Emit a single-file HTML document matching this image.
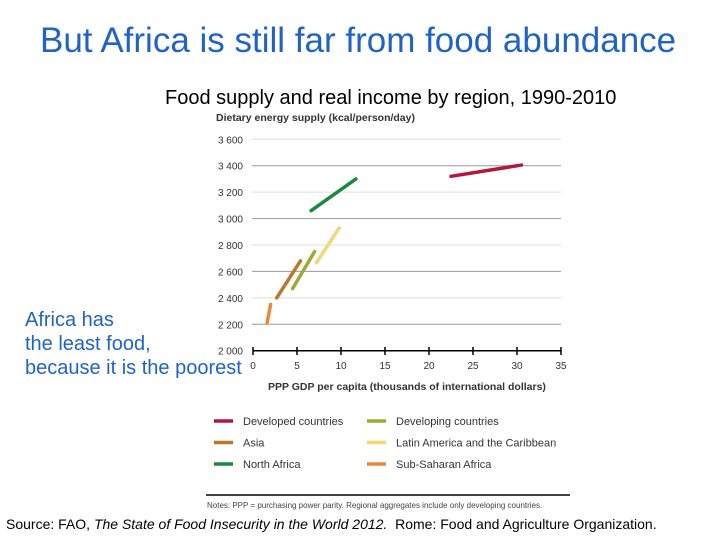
<!DOCTYPE html>
<html><head><meta charset="utf-8"><style>
body{margin:0;width:720px;height:540px;background:#fff;overflow:hidden;position:relative;font-family:"Liberation Sans",sans-serif}
.t{position:absolute;white-space:nowrap}
</style></head><body>
<div class="t" style="left:40px;top:21px;font-size:35px;color:#1f63c6">But Africa is still far from food abundance</div>
<div class="t" style="left:165px;top:87px;font-size:20px;color:#000">Food supply and real income by region, 1990-2010</div>
<div class="t" style="left:25px;top:308px;font-size:20px;line-height:24px;color:#1f63c6">Africa has<br>the least food,<br>because it is the poorest</div>
<div class="t" style="left:6px;top:516px;font-size:14px;color:#000">Source: FAO, <i>The State of Food Insecurity in the World 2012.</i>&nbsp; Rome: Food and Agriculture Organization.</div>
<svg id="c" width="720" height="540" style="position:absolute;left:0;top:0" font-family="Liberation Sans, sans-serif"></svg>
<script>
const yTicks=[2000,2200,2400,2600,2800,3000,3200,3400,3600];
const yTickLabels=["2 000","2 200","2 400","2 600","2 800","3 000","3 200","3 400","3 600"];
const xTicks=[0,5,10,15,20,25,30,35];
const seriesNames=["Developed countries","Asia","North Africa","Developing countries","Latin America and the Caribbean","Sub-Saharan Africa"];
const seriesColors=["#b5173b","#b9782e","#1a8a3f","#9aac33","#f0d878","#e8883a"];
const gdpStart=[22.5,2.7,6.6,4.5,7.2,1.6];
const gdpEnd=[30.5,5.4,11.7,7.0,9.8,2.0];
const desStart=[3320,2400,3060,2470,2665,2210];
const desEnd=[3405,2680,3300,2750,2930,2350];
const svg=document.getElementById('c');
const NS='http://www.w3.org/2000/svg';
const X=v=>253+v*(561-253)/35;
const Y=v=>350.7-(v-2000)*(350.7-139.3)/1600;
function mk(t,a){const e=document.createElementNS(NS,t);for(const k in a)e.setAttribute(k,a[k]);svg.appendChild(e);return e;}
function tx(x,y,s,a){const e=mk('text',Object.assign({x:x,y:y,'font-size':11,fill:'#333'},a||{}));e.textContent=s;return e;}
let e=tx(216,121,'Dietary energy supply (kcal/person/day)',{'font-weight':'bold','font-size':10.5});


yTicks.forEach((v,i)=>{
 if(i>0){const g=mk('line',{x1:252,x2:561,y1:Y(v),y2:Y(v),stroke:i%2?'#999':'#ddd','stroke-width':1});
 
 }
 const l=tx(243,Y(v)+4,yTickLabels[i],{'text-anchor':'end','font-size':10});
 
 
});
e=mk('line',{x1:253,x2:561,y1:350.7,y2:350.7,stroke:'#000','stroke-width':1.5});


xTicks.forEach(v=>{
 const t=mk('line',{x1:X(v),x2:X(v),y1:347,y2:355,stroke:'#000','stroke-width':1.5});
 
 
 const l=tx(X(v),369,String(v),{'text-anchor':'middle','font-size':10});
 
 
});
e=tx(268,390,'PPP GDP per capita (thousands of international dollars)',{'font-weight':'bold','font-size':10.5});


seriesNames.forEach((n,i)=>{
 const l=mk('line',{x1:X(gdpStart[i]),y1:Y(desStart[i]),x2:X(gdpEnd[i]),y2:Y(desEnd[i]),stroke:seriesColors[i],'stroke-width':3.5,'stroke-linecap':'round'});
 
 
 const col=i<3?0:1,row=i%3;
 const lx=col?367:214,ly=421+row*21.5;
 const s=mk('line',{x1:lx,x2:lx+19,y1:ly,y2:ly,stroke:seriesColors[i],'stroke-width':3.5});
 
 
 const t=tx(lx+29,ly+4,n,{'font-size':11});
 
 
});
e=mk('line',{x1:206,x2:570,y1:495,y2:495,stroke:'#000','stroke-width':1.5});


e=tx(207,508,'Notes: PPP = purchasing power parity. Regional aggregates include only developing countries.',{'font-size':8,fill:'#444'});


</script>
</body></html>
